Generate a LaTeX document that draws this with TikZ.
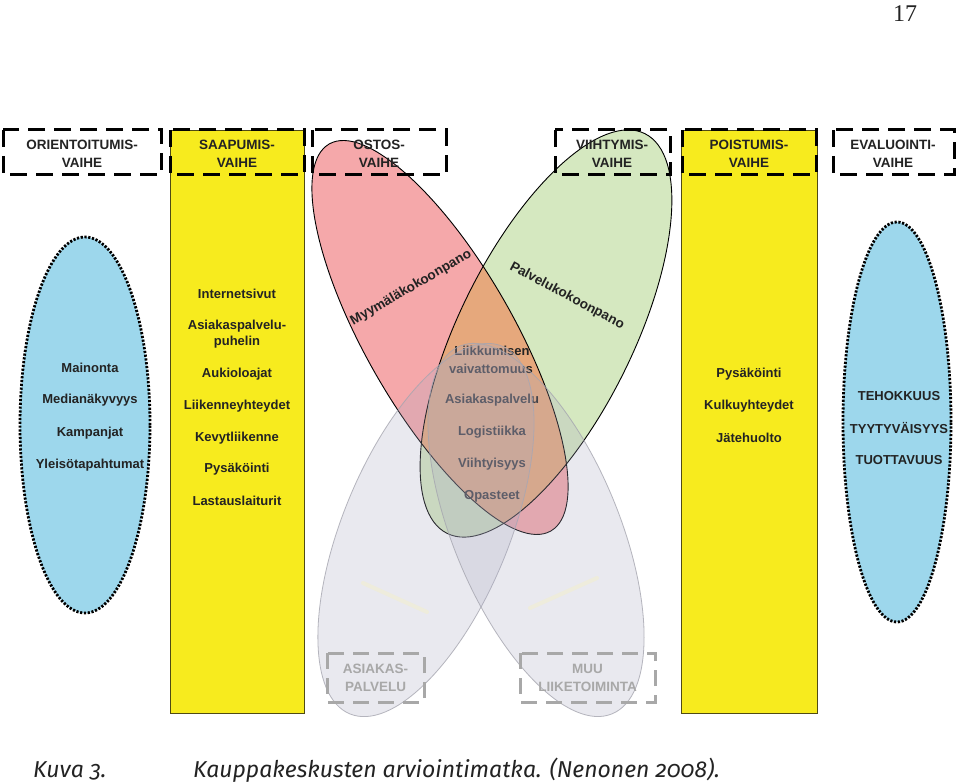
\documentclass[tikz,border=0pt]{standalone}
\usepackage{fontspec}
\setmainfont{Liberation Sans}
\newfontfamily\capfont[Numbers=OldStyle]{Fira Sans}
\newfontfamily\pnfont{Liberation Serif}
\definecolor{yel}{RGB}{247,235,30}
\definecolor{yelline}{RGB}{80,75,20}
\definecolor{blu}{RGB}{157,215,236}
\definecolor{redf}{RGB}{245,168,170}
\definecolor{grnf}{RGB}{213,232,192}
\definecolor{orgf}{RGB}{230,168,124}
\definecolor{grayf}{RGB}{170,170,195}
\definecolor{grayline}{RGB}{165,165,175}
\definecolor{graybox}{RGB}{168,168,168}
\definecolor{txtc}{RGB}{35,35,35}
\definecolor{faint}{RGB}{238,236,220}
\tikzset{
  ycol/.style={fill=yel, draw=yelline, line width=0.8pt},
  blueell/.style={fill=blu, draw=black, line width=2.8pt, dash pattern=on 2.2pt off 1.6pt},
  phasebox/.style={draw=black, line width=3pt, dash pattern=on 17pt off 9pt},
  graydash/.style={draw=graybox, line width=3pt, dash pattern=on 16pt off 9pt},
  lbl/.style={font=\bfseries\fontsize{13}{15}\selectfont, text=txtc, inner sep=0pt},
  hdr/.style={font=\bfseries\fontsize{13.5}{18}\selectfont, text=txtc, inner sep=0pt, align=center},
  glbl/.style={font=\bfseries\fontsize{13.5}{18}\selectfont, text=graybox, inner sep=0pt, align=center},
  thinout/.style={draw=black, line width=0.9pt},
  grayell/.style={fill=grayf, fill opacity=0.25, draw=grayline, draw opacity=0.8, line width=0.8pt},
}
\begin{document}
\begin{tikzpicture}[x=1pt,y=-1pt]
\useasboundingbox (0,0) rectangle (960,783);
\fill[white] (0,0) rectangle (960,783);

% page number
\node[font=\pnfont\fontsize{24}{26}\selectfont, text=txtc, inner sep=0pt] (pnum) at (905,14) {17};

% yellow columns
\draw[ycol] (170,130) rectangle (304,713);
\draw[ycol] (681,130) rectangle (817,713);

% blue ellipses
\draw[blueell] (85,425) ellipse [x radius=65pt, y radius=188pt];
\draw[blueell] (897,422) ellipse [x radius=54pt, y radius=200pt];

% red / green ellipses
\coordinate (redc) at (440,337.5);
\coordinate (grnc) at (546,333.5);
\fill[grnf, rotate around={63.7:(grnc)}] (grnc) ellipse [x radius=223pt, y radius=87pt];
\fill[redf, rotate around={-60.2:(redc)}] (redc) ellipse [x radius=223pt, y radius=74pt];
\begin{scope}
  \clip[rotate around={-60.2:(redc)}] (redc) ellipse [x radius=223pt, y radius=74pt];
  \fill[orgf, rotate around={63.7:(grnc)}] (grnc) ellipse [x radius=223pt, y radius=87pt];
\end{scope}
\draw[thinout, rotate around={63.7:(grnc)}] (grnc) ellipse [x radius=223pt, y radius=87pt];
\draw[thinout, rotate around={-60.2:(redc)}] (redc) ellipse [x radius=223pt, y radius=74pt];

% ellipse labels
\node[lbl, rotate=30, font=\bfseries\fontsize{13.5}{15}\selectfont] (myy) at (411,288) {Myymäläkokoonpano};
\node[lbl, rotate=-28, font=\bfseries\fontsize{13.5}{15}\selectfont] (pal) at (567,296) {Palvelukokoonpano};

% center texts
\node[lbl] (c1) at (492,351) {Liikkumisen};
\node[lbl] (c2) at (491,369) {vaivattomuus};
\node[lbl] (c3) at (492,400) {Asiakaspalvelu};
\node[lbl] (c4) at (492,432) {Logistiikka};
\node[lbl] (c5) at (492,464) {Viihtyisyys};
\node[lbl] (c6) at (492,496) {Opasteet};

% gray ellipses
\coordinate (glc) at (426,530);
\coordinate (grc) at (536,530);
\draw[grayell, rotate around={67.5:(glc)}] (glc) ellipse [x radius=199pt, y radius=83pt];
\draw[grayell, rotate around={-67.5:(grc)}] (grc) ellipse [x radius=199pt, y radius=83pt];
\coordinate (fa1) at (363,583);
\coordinate (fa2) at (427,612);
\coordinate (fb1) at (530,608);
\coordinate (fb2) at (597,578);
\draw[faint, line width=4pt, line cap=round] (fa1) -- (fa2);
\draw[faint, line width=4pt, line cap=round] (fb1) -- (fb2);

% gray boxes
\draw[graydash] (327,653) rectangle (424,702);
\draw[graydash] (520,653) rectangle (655,702);
\node[glbl] (asp) at (375.5,677.5) {ASIAKAS-\\PALVELU};
\node[glbl] (muu) at (587.5,677.5) {MUU\\LIIKETOIMINTA};

% left ellipse texts
\node[lbl] (l1) at (90,368) {Mainonta};
\node[lbl] (l2) at (90,400) {Medianäkyvyys};
\node[lbl] (l3) at (90,433) {Kampanjat};
\node[lbl] (l4) at (90,465) {Yleisötapahtumat};

% left yellow texts
\node[lbl] (y1) at (237,294) {Internetsivut};
\node[lbl, align=center, font=\bfseries\fontsize{13}{16}\selectfont] (y2) at (237,334) {Asiakaspalvelu-\\puhelin};
\node[lbl] (y3) at (237,374) {Aukioloajat};
\node[lbl] (y4) at (237,406) {Liikenneyhteydet};
\node[lbl] (y5) at (237,438) {Kevytliikenne};
\node[lbl] (y6) at (237,469) {Pysäköinti};
\node[lbl] (y7) at (237,501) {Lastauslaiturit};

% right yellow texts
\node[lbl] (r1) at (749,374) {Pysäköinti};
\node[lbl] (r2) at (749,406) {Kulkuyhteydet};
\node[lbl] (r3) at (749,438) {Jätehuolto};

% right ellipse texts
\node[lbl] (e1) at (899,396) {TEHOKKUUS};
\node[lbl] (e2) at (899,428) {TYYTYVÄISYYS};
\node[lbl] (e3) at (899,460) {TUOTTAVUUS};

% top phase boxes
\draw[phasebox] (3,130) rectangle (161,175);
\draw[phasebox] (170,130) rectangle (304,175);
\draw[phasebox] (312,130) rectangle (446,175);
\draw[phasebox] (555,130) rectangle (670,175);
\draw[phasebox] (682,130) rectangle (816,175);
\draw[phasebox] (833,130) rectangle (954,175);
\node[hdr] (h1) at (82,154) {ORIENTOITUMIS-\\VAIHE};
\node[hdr] (h2) at (237,154) {SAAPUMIS-\\VAIHE};
\node[hdr] (h3) at (379,154) {OSTOS-\\VAIHE};
\node[hdr] (h4) at (612,154) {VIIHTYMIS-\\VAIHE};
\node[hdr] (h5) at (749,154) {POISTUMIS-\\VAIHE};
\node[hdr] (h6) at (893,154) {EVALUOINTI-\\VAIHE};

% caption
\node[anchor=base west, inner sep=0pt, text=txtc, font=\capfont\itshape\fontsize{23}{26}\selectfont] (cap1) at (33,777) {Kuva 3.};
\node[anchor=base west, inner sep=0pt, text=txtc, font=\capfont\itshape\fontsize{23}{26}\selectfont] (cap2) at (193,777) {Kauppakeskusten arviointimatka. (Nenonen 2008).};
\end{tikzpicture}
\end{document}
